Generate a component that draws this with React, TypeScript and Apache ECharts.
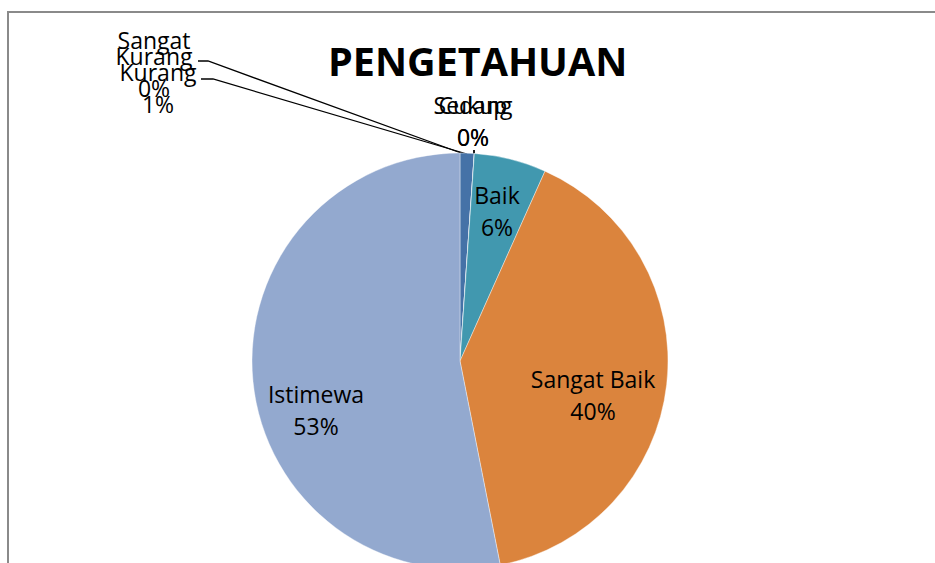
import React, { useEffect, useRef } from "react";
import * as echarts from "echarts";

const TITLE = "PENGETAHUAN";
const CATEGORIES = ["Sangat Kurang", "Kurang", "Cukup", "Sedang", "Baik", "Sangat Baik", "Istimewa"];
const VALUES = [0, 1.1, 0, 0, 5.6, 40.2, 53.1];
const COLORS = ["#4572A7", "#4572A7", "#AA4643", "#89A54E", "#4198AF", "#DB843D", "#93A9CF"];

// label placement (styling, not data): center x, center y, wrap name, leader line points
const LABEL_LAYOUT: any[] = [
  { x: 154, y: 64, wrap: true, line: [[198, 61], [208, 61], [461, 153]] },
  { x: 158, y: 88, wrap: true, line: [[201, 79], [213, 79], [467, 154]] },
  { x: 473, y: 121, wrap: false, line: [[474, 150], [474, 150], [474, 156]] },
  { x: 473, y: 121, wrap: false, line: [[474, 150], [474, 150], [474, 156]] },
  { x: 497, y: 211, wrap: false, line: null },
  { x: 593, y: 395, wrap: false, line: null },
  { x: 316, y: 410, wrap: false, line: null },
];

export default function App() {
  const ref = useRef<HTMLDivElement>(null);
  useEffect(() => {
    if (!ref.current) return;
    const chart = echarts.init(ref.current, null, { renderer: "svg" });
    const data = CATEGORIES.map((name, i) => {
      const lay = LABEL_LAYOUT[i];
      return {
        name,
        value: VALUES[i],
        itemStyle: { color: COLORS[i] },
        label: { position: lay.line ? "outside" : "inside" },
        labelLine: { show: !!lay.line },
      };
    });
    chart.setOption({
      animation: false,
      backgroundColor: "#ffffff",
      title: {
        text: TITLE,
        left: 328,
        top: 41,
        padding: 0,
        textStyle: { fontFamily: "Open Sans", fontWeight: "bold", fontSize: 39.5, color: "#000" },
      },
      graphic: [
        {
          type: "rect",
          shape: { x: 8, y: 12, width: 1200, height: 1000 },
          style: { fill: "none", stroke: "#8a8a8a", lineWidth: 2 },
          silent: true,
        },
      ],
      series: [
        {
          type: "pie",
          center: [460, 361],
          radius: 208,
          startAngle: 90,
          clockwise: true,
          avoidLabelOverlap: false,
          minShowLabelAngle: 0,
          itemStyle: { borderColor: "#ffffff", borderWidth: 0.4 },
          label: {
            show: true,
            fontFamily: "Open Sans",
            fontSize: 23,
            lineHeight: 16,
            color: "#000",
            align: "center",
            formatter: (p: any) => {
              const lay = LABEL_LAYOUT[p.dataIndex];
              const nm = lay.wrap ? p.name.replace(/ /g, "\n") : p.name;
              return nm + "\n\n" + Math.round(p.percent) + "%";
            },
          },
          labelLine: { show: true, lineStyle: { color: "#000", width: 1.3 } },
          labelLayout: (params: any) => {
            const lay = LABEL_LAYOUT[params.dataIndex];
            const res: any = { x: lay.x, y: lay.y, align: "center", verticalAlign: "middle" };
            if (lay.line) res.labelLinePoints = lay.line;
            return res;
          },
          data,
        },
      ],
    });
    return () => chart.dispose();
  }, []);
  return <div ref={ref} style={{ position: "absolute", left: 0, top: 0, width: 935, height: 563 }} />;
}
